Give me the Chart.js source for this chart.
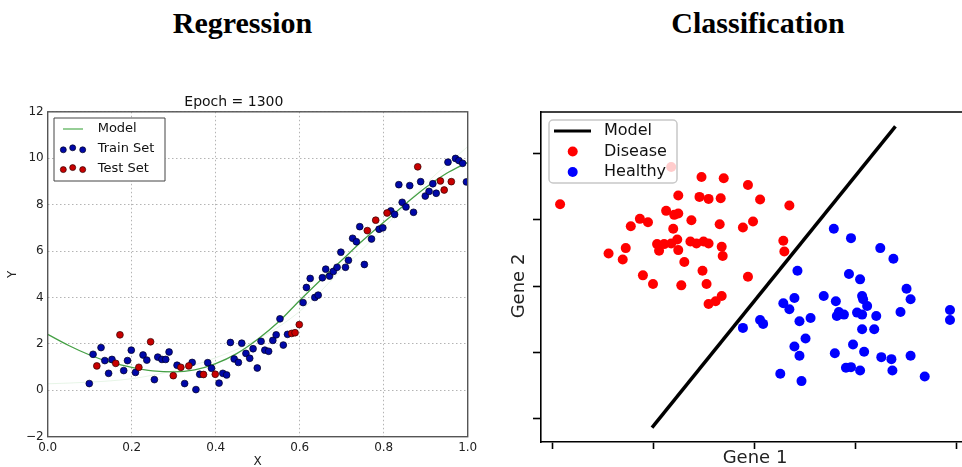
<!DOCTYPE html>
<html>
<head>
<meta charset="utf-8">
<script src="https://cdn.jsdelivr.net/npm/chart.js@4.4.1/dist/chart.umd.min.js"></script>
<style>
  html, body { margin: 0; padding: 0; background: #fff; width: 962px; height: 467px; overflow: hidden; }
  .heading { position: absolute; top: 8px; font-family: "Liberation Serif", "Times New Roman", serif; font-weight: bold; font-size: 30px; line-height: 30px; text-align: center; color: #000; }
  #regTitle { left: 0; width: 485px; }
  #clsTitle { left: 516px; width: 484px; }
  #regChart { position: absolute; left: 0; top: 89px; }
  #clsChart { position: absolute; left: 500px; top: 100px; }
</style>
</head>
<body>
<div class="heading" id="regTitle">Regression</div>
<div class="heading" id="clsTitle">Classification</div>
<canvas id="regChart" width="490" height="380"></canvas>
<canvas id="clsChart" width="462" height="367"></canvas>
<script>
// ---- Regression panel ----
const trainX = [0.099, 0.108, 0.127, 0.136, 0.145, 0.153, 0.181, 0.190, 0.199, 0.209, 0.227, 0.236, 0.254, 0.262, 0.272, 0.281, 0.289, 0.308, 0.326, 0.344,
  0.353, 0.362, 0.381, 0.390, 0.408, 0.417, 0.426, 0.435, 0.444, 0.454, 0.462, 0.472, 0.481, 0.489, 0.499, 0.508, 0.517, 0.526, 0.536, 0.544,
  0.553, 0.561, 0.571, 0.608, 0.616, 0.625, 0.636, 0.644, 0.654, 0.662, 0.671, 0.680, 0.689, 0.698, 0.709, 0.716, 0.726, 0.735, 0.743, 0.754,
  0.771, 0.789, 0.798, 0.817, 0.826, 0.836, 0.844, 0.853, 0.862, 0.871, 0.888, 0.899, 0.908, 0.917, 0.925, 0.953, 0.971, 0.979, 0.988, 0.997];
const trainY = [0.29, 1.55, 1.84, 1.28, 0.73, 1.33, 0.85, 1.28, 1.73, 0.77, 1.52, 1.30, 0.46, 1.43, 1.33, 1.33, 1.65, 1.08, 0.29, 1.20,
  0.03, 0.69, 1.19, 0.95, 0.31, 0.73, 0.66, 2.06, 1.35, 1.20, 2.03, 1.59, 1.38, 1.79, 0.96, 2.11, 1.73, 1.68, 2.15, 2.39,
  3.08, 1.95, 2.41, 3.78, 4.43, 4.82, 4.00, 4.10, 4.85, 5.22, 4.92, 5.12, 5.30, 5.95, 5.30, 5.60, 6.55, 6.40, 7.05, 5.42,
  6.52, 6.94, 7.00, 7.73, 7.58, 8.86, 8.10, 7.90, 8.82, 7.67, 8.99, 8.37, 8.57, 8.90, 8.49, 9.83, 9.99, 9.90, 9.78, 8.98];
const testX = [0.117, 0.162, 0.172, 0.217, 0.245, 0.299, 0.317, 0.336, 0.371, 0.399, 0.581, 0.589, 0.599, 0.761, 0.781, 0.808, 0.881, 0.935, 0.944, 0.961];
const testY = [1.05, 1.16, 2.39, 0.99, 2.09, 0.63, 0.99, 1.05, 0.68, 0.69, 2.45, 2.48, 2.83, 6.88, 7.33, 7.64, 9.63, 9.02, 8.63, 8.99];
const modelX = [0, 0.05, 0.1, 0.15, 0.2, 0.25, 0.3, 0.35, 0.4, 0.45, 0.5, 0.55, 0.6, 0.65, 0.7, 0.75, 0.8, 0.85, 0.9, 0.95, 1.0];
const modelY = [2.41, 1.93, 1.52, 1.20, 0.99, 0.84, 0.79, 0.88, 1.15, 1.58, 2.20, 2.95, 3.87, 4.75, 5.60, 6.45, 7.24, 8.00, 8.74, 9.35, 9.82];
// faint trace of an earlier epoch
const trailX = [0, 0.1, 0.2, 0.3, 0.4, 0.5, 0.6, 0.7, 0.8, 0.9, 1.0];
const trailY = [0.28, 0.35, 0.50, 0.85, 1.40, 2.20, 3.40, 5.20, 7.00, 8.90, 10.50];
const regXTicks = [0, 0.2, 0.4, 0.6, 0.8, 1.0];
const regYTicks = [-2, 0, 2, 4, 6, 8, 10, 12];

// ---- Classification panel ----
const diseaseX = [1.18, 0.08, 1.48, 1.70, 1.94, 1.25, 1.46, 1.55, 1.67, 2.06, 2.35, 1.13, 1.21, 1.25, 0.87, 0.95, 0.78, 1.38, 1.66, 1.89,
  1.99, 1.20, 1.24, 1.04, 1.11, 1.18, 1.37, 1.43, 1.50, 1.55, 1.68, 0.73, 0.56, 1.06, 1.25, 0.70, 1.69, 1.31, 2.29, 2.30,
  1.49, 0.90, 1.94, 1.00, 1.28, 1.53, 1.68, 1.62, 1.55];
const diseaseY = [3.79, 3.23, 3.64, 3.62, 3.52, 3.36, 3.34, 3.31, 3.32, 3.30, 3.21, 3.13, 3.07, 3.09, 3.01, 2.96, 2.90, 2.99, 2.93, 2.88,
  2.97, 2.86, 2.70, 2.63, 2.63, 2.64, 2.67, 2.64, 2.67, 2.64, 2.59, 2.57, 2.49, 2.53, 2.54, 2.40, 2.45, 2.36, 2.68, 2.52,
  2.23, 2.16, 2.14, 2.03, 2.01, 2.03, 1.85, 1.77, 1.73];
const healthyX = [2.79, 2.96, 3.25, 3.38, 2.43, 2.94, 3.05, 3.51, 3.55, 2.40, 2.29, 2.35, 2.69, 2.81, 3.07, 3.08, 3.12, 3.21, 3.45, 3.94,
  3.94, 2.84, 2.82, 2.89, 3.02, 3.07, 2.45, 2.56, 2.06, 2.09, 1.89, 3.07, 3.19, 2.51, 2.40, 2.45, 2.98, 2.80, 3.09, 3.26,
  3.36, 3.55, 2.91, 2.96, 3.05, 3.37, 2.26, 2.47, 3.69];
const healthyY = [2.86, 2.72, 2.57, 2.41, 2.23, 2.18, 2.10, 1.96, 1.80, 1.82, 1.74, 1.65, 1.85, 1.77, 1.85, 1.80, 1.70, 1.55, 1.61, 1.64,
  1.49, 1.61, 1.55, 1.57, 1.60, 1.57, 1.47, 1.52, 1.49, 1.43, 1.37, 1.35, 1.35, 1.21, 1.09, 0.95, 1.12, 0.99, 1.01, 0.93,
  0.90, 0.95, 0.77, 0.78, 0.73, 0.73, 0.68, 0.57, 0.64];
const boundaryX = [0.99, 3.40];
const boundaryY = [-0.13, 4.40];
const clsXTicks = [0, 1, 2, 3, 4];
const clsYTicks = [0, 1, 2, 3, 4];

const pts = (xs, ys) => xs.map((x, i) => ({ x: x, y: ys[i] }));
const FONT = "'DejaVu Sans', Verdana, sans-serif";

// legend drawn inside the plot, matplotlib style
const boxLegend = {
  id: "boxLegend",
  afterDatasetsDraw(chart, args, o) {
    if (!o || !o.items) return;
    const ctx = chart.ctx;
    ctx.save();
    ctx.beginPath();
    if (o.radius) ctx.roundRect(o.x, o.y, o.w, o.h, o.radius);
    else ctx.rect(o.x, o.y, o.w, o.h);
    ctx.fillStyle = o.fill;
    ctx.fill();
    ctx.lineWidth = o.borderWidth;
    ctx.strokeStyle = o.border;
    ctx.stroke();
    ctx.font = o.font;
    ctx.textBaseline = "middle";
    o.items.forEach((it, i) => {
      const ds = chart.data.datasets[it.ds];
      const y = o.y + o.first + i * o.step;
      if (it.line) {
        ctx.beginPath();
        ctx.moveTo(o.symX[0], y);
        ctx.lineTo(o.symX[1], y);
        ctx.lineWidth = it.width;
        ctx.strokeStyle = it.color || ds.borderColor;
        ctx.stroke();
      } else {
        it.dots.forEach(d => {
          ctx.beginPath();
          ctx.arc(d[0], y + d[1], it.r, 0, Math.PI * 2);
          ctx.fillStyle = ds.backgroundColor;
          ctx.fill();
          if (ds.borderWidth) {
            ctx.lineWidth = ds.borderWidth;
            ctx.strokeStyle = ds.borderColor;
            ctx.stroke();
          }
        });
      }
      ctx.fillStyle = o.color;
      ctx.fillText(ds.label, o.textX, y);
    });
    ctx.restore();
  }
};

// frame / extra spines and free-positioned axis labels
const frame = {
  id: "frame",
  afterDraw(chart, args, o) {
    if (!o) return;
    const { ctx, chartArea: a } = chart;
    ctx.save();
    if (o.box) {
      ctx.lineWidth = o.width;
      ctx.strokeStyle = o.color;
      ctx.strokeRect(a.left, a.top, a.right - a.left, a.bottom - a.top);
    }
    if (o.top) {
      ctx.lineWidth = o.width;
      ctx.strokeStyle = o.color;
      ctx.beginPath();
      ctx.moveTo(a.left - o.width / 2, a.top);
      ctx.lineTo(a.right, a.top);
      ctx.stroke();
    }
    (o.labels || []).forEach(l => {
      ctx.save();
      ctx.font = l.font;
      ctx.fillStyle = l.color;
      ctx.textAlign = "center";
      ctx.textBaseline = "middle";
      ctx.translate(l.x, l.y);
      ctx.rotate(l.rot || 0);
      ctx.fillText(l.text, 0, 0);
      ctx.restore();
    });
    ctx.restore();
  }
};

new Chart(document.getElementById("regChart"), {
  type: "scatter",
  data: {
    datasets: [
      { label: "Test Set", data: pts(testX, testY), order: 0, pointRadius: 3.4, backgroundColor: "#c80000", borderColor: "#300000", borderWidth: 0.7 },
      { label: "Train Set", data: pts(trainX, trainY), order: 1, pointRadius: 3.4, backgroundColor: "#0008a8", borderColor: "#000020", borderWidth: 0.7 },
      { label: "Model", data: pts(modelX, modelY), order: 2, showLine: true, pointRadius: 0, borderColor: "#46a046", borderWidth: 1.3, cubicInterpolationMode: "monotone" },
      { label: "trace", data: pts(trailX, trailY), order: 3, showLine: true, pointRadius: 0, borderColor: "rgba(120,200,120,0.18)", borderWidth: 1, cubicInterpolationMode: "monotone" }
    ]
  },
  options: {
    responsive: false,
    animation: false,
    layout: { autoPadding: false, padding: { left: 0, right: 22.3, top: 0, bottom: 0 } },
    plugins: {
      legend: { display: false },
      tooltip: { enabled: false },
      title: { display: true, text: "Epoch = 1300", color: "#111", font: { family: FONT, size: 14, weight: "normal" }, padding: { top: 5, bottom: 1 } },
      boxLegend: {
        x: 54, y: 29, w: 111, h: 63, fill: "#fff", border: "#444", borderWidth: 1,
        font: "13px " + FONT, color: "#111", first: 11, step: 19.8, textX: 97.7, symX: [63, 83],
        items: [
          { ds: 2, line: true, width: 1.6, color: "#7cc27c" },
          { ds: 1, r: 3, dots: [[63.3, 1], [72.7, -1], [82.7, 1]] },
          { ds: 0, r: 3, dots: [[63.3, 1], [72.7, -1], [82.7, 1]] }
        ]
      },
      frame: { box: true, width: 1.4, color: "#555" }
    },
    scales: {
      x: {
        type: "linear", min: 0, max: 1,
        afterFit: s => { s.height = 32.3; },
        afterBuildTicks: s => { s.ticks = regXTicks.map(v => ({ value: v })); },
        ticks: { color: "#222", font: { family: FONT, size: 12 }, padding: 4, callback: v => Number(v).toFixed(1) },
        grid: { color: "#b4b4b4", lineWidth: 1, drawTicks: false },
        border: { display: false, dash: [1.5, 2.5] },
        title: { display: true, text: "X", color: "#222", font: { family: FONT, size: 12 }, padding: { top: 0, bottom: 0 } }
      },
      y: {
        type: "linear", min: -2, max: 12,
        afterFit: s => { s.width = 47.7; },
        afterBuildTicks: s => { s.ticks = regYTicks.map(v => ({ value: v })); },
        ticks: { color: "#222", font: { family: FONT, size: 12 }, padding: 4, callback: v => (v < 0 ? "\u2212" + Math.abs(v) : String(v)) },
        grid: { color: "#b4b4b4", lineWidth: 1, drawTicks: false },
        border: { display: false, dash: [1.5, 2.5] },
        title: { display: true, text: "Y", color: "#222", font: { family: FONT, size: 12 }, padding: { top: 6, bottom: 0 } }
      }
    }
  },
  plugins: [boxLegend, frame]
});

new Chart(document.getElementById("clsChart"), {
  type: "scatter",
  data: {
    datasets: [
      { label: "Model", data: pts(boundaryX, boundaryY), order: 0, showLine: true, pointRadius: 0, borderColor: "#000", borderWidth: 3.5 },
      { label: "Disease", data: pts(diseaseX, diseaseY), order: 1, pointRadius: 5, backgroundColor: "#ff0000", borderWidth: 0 },
      { label: "Healthy", data: pts(healthyX, healthyY), order: 2, pointRadius: 5, backgroundColor: "#0000ff", borderWidth: 0 }
    ]
  },
  options: {
    responsive: false,
    animation: false,
    layout: { autoPadding: false, padding: { left: 0, right: 0, top: 12, bottom: 0 } },
    plugins: {
      legend: { display: false },
      tooltip: { enabled: false },
      boxLegend: {
        x: 49, y: 20, w: 128, h: 63, radius: 4, fill: "rgba(255,255,255,0.8)", border: "#c8c8c8", borderWidth: 1.5,
        font: "16px " + FONT, color: "#111", first: 11, step: 20.5, textX: 104, symX: [54, 91],
        items: [
          { ds: 0, line: true, width: 3 },
          { ds: 1, r: 5, dots: [[72.7, 0]] },
          { ds: 2, r: 5, dots: [[72.7, 0]] }
        ]
      },
      frame: {
        top: true, width: 1.6, color: "#000",
        labels: [
          { text: "Gene 1", x: 255, y: 358, font: "18px " + FONT, color: "#222" },
          { text: "Gene 2", x: 19, y: 186, rot: -Math.PI / 2, font: "18px " + FONT, color: "#222" }
        ]
      }
    },
    scales: {
      x: {
        type: "linear", min: -0.109, max: 4.059,
        afterFit: s => { s.height = 25; },
        afterBuildTicks: s => { s.ticks = clsXTicks.map(v => ({ value: v })); },
        ticks: { display: false },
        grid: { drawOnChartArea: false, drawTicks: true, tickLength: 7, tickWidth: 1.6, tickColor: "#000" },
        border: { display: true, color: "#000", width: 1.6 }
      },
      y: {
        type: "linear", min: -0.346, max: 4.617,
        afterFit: s => { s.width = 41; },
        afterBuildTicks: s => { s.ticks = clsYTicks.map(v => ({ value: v })); },
        ticks: { display: false },
        grid: { drawOnChartArea: false, drawTicks: true, tickLength: 8, tickWidth: 1.6, tickColor: "#000" },
        border: { display: true, color: "#000", width: 1.6 }
      }
    }
  },
  plugins: [boxLegend, frame]
});
</script>
</body>
</html>
